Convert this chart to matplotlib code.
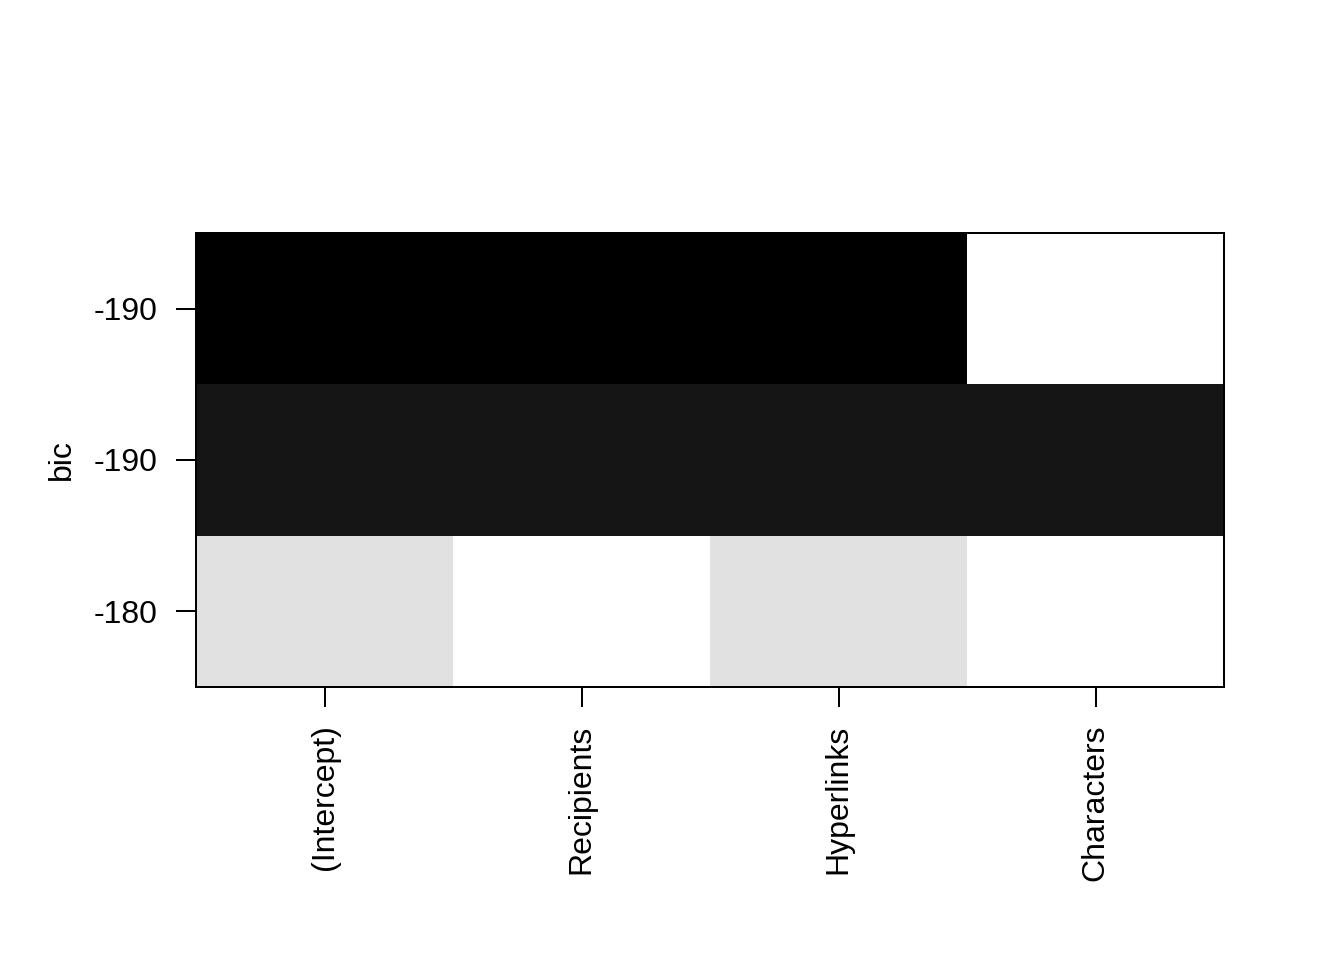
import matplotlib.pyplot as plt
import numpy as np

plt.rcParams['font.family'] = ['Liberation Sans', 'DejaVu Sans']

# variables (columns) and models (rows, bottom to top)
variables = ["(Intercept)", "Recipients", "Hyperlinks", "Characters"]
bic_values = [-180.6, -190.8, -191.9]
bic_labels = ["-180", "-190", "-190"]
included = [
    [1, 0, 1, 0],
    [1, 1, 1, 1],
    [1, 1, 1, 0],
]


def main():
    inc = np.array(included, dtype=float)
    bic = np.array(bic_values)
    # shade from black (best bic) to light gray (worst bic)
    shade = 0.88 * (bic - bic.min()) / (bic.max() - bic.min())
    z = np.where(inc > 0, shade[:, None], 1.0)
    z = np.ma.masked_where(inc == 0, z)

    fig = plt.figure(figsize=(7, 5), dpi=192)
    ax = fig.add_axes([196 / 1344, 1 - 687 / 960, (1224 - 196) / 1344, (687 - 233) / 960])

    ax.pcolormesh(np.arange(len(variables) + 1) - 0.5,
                  np.arange(len(bic_values) + 1) - 0.5,
                  z, cmap="gray", vmin=0, vmax=1, shading="flat")

    ax.set_xlim(-0.5, len(variables) - 0.5)
    ax.set_ylim(-0.5, len(bic_values) - 0.5)
    ax.set_xticks(range(len(variables)))
    ax.set_xticklabels(variables, rotation=90, va="top")
    ax.set_yticks(range(len(bic_values)))
    ax.set_yticklabels(bic_labels)
    ax.tick_params(axis="both", length=7.5, width=0.75, labelsize=12)
    ax.tick_params(axis="y", pad=7.0)
    ax.tick_params(axis="x", pad=6.5)
    for s in ax.spines.values():
        s.set_linewidth(0.75)
    ax.set_ylabel("bic", fontsize=12, labelpad=6)

    fig.savefig("out.png", dpi=192)


if (__name__ == "__main__"):
    main()
